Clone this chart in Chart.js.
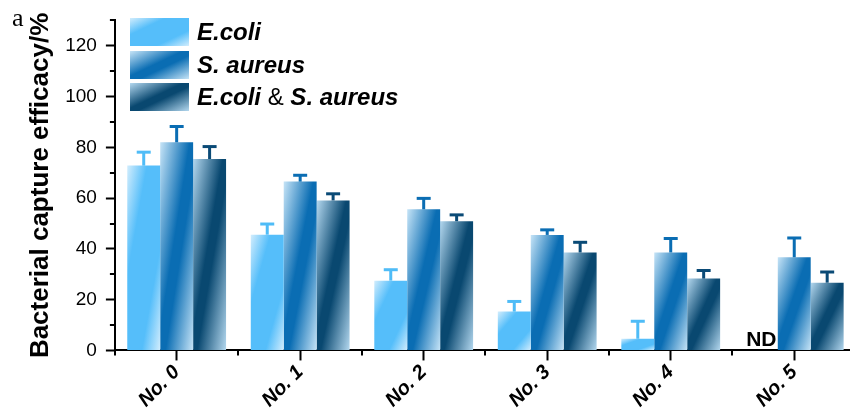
<!DOCTYPE html>
<html>
<head>
<meta charset="utf-8">
<script src="https://cdn.jsdelivr.net/npm/chart.js@4"></script>
<style>
  html, body { margin: 0; padding: 0; background: #fff; overflow: hidden; }
  #wrap { position: relative; width: 850px; height: 411px; overflow: hidden; }
  #box { position: absolute; left: 0; top: 0; width: 870px; height: 411px; }
  .panel { position: absolute; left: 12px; top: 3px; font: 26px "Liberation Serif", serif; color: #000; line-height: 30px; }
  .legend { position: absolute; left: 130px; top: 18px; font-family: "Liberation Sans", Arial, sans-serif; }
  .item { height: 28px; margin-bottom: 4.5px; display: flex; align-items: center; }
  .sw { width: 59px; height: 28px; margin-right: 8px; flex: none; }
  .lbl { font-size: 24px; font-weight: bold; font-style: italic; color: #000; white-space: nowrap; }
  .amp { font-style: normal; font-weight: normal; }
</style>
</head>
<body>
<div id="wrap">
  <div id="box"><canvas id="myChart" width="870" height="411"></canvas></div>
  <div class="panel">a</div>
  <div class="legend">
    <div class="item"><div class="sw" style="background:linear-gradient(to bottom right,#d2edfd 0%,#55befa 30%,#55befa 72%,#d2edfd 100%)"></div><span class="lbl">E.coli</span></div>
    <div class="item"><div class="sw" style="background:linear-gradient(to bottom right,#c6e4f7 0%,#0a6db3 45%,#0a6db3 58%,#c6e4f7 100%)"></div><span class="lbl">S. aureus</span></div>
    <div class="item"><div class="sw" style="background:linear-gradient(to bottom right,#b4d8ef 0%,#094870 45%,#094870 56%,#b4d8ef 100%)"></div><span class="lbl">E.coli <span class="amp">&amp;</span> S. aureus</span></div>
  </div>
</div>
<script>
var categories = ['No. 0', 'No. 1', 'No. 2', 'No. 3', 'No. 4', 'No. 5'];
var ecoli = [72.8, 45.6, 27.5, 15.3, 4.6, null];
var ecoliErr = [5.3, 4.2, 4.3, 4.0, 6.9, null];
var saureus = [82.0, 66.5, 55.6, 45.5, 38.6, 36.7];
var saureusErr = [6.2, 2.5, 4.3, 2.0, 5.5, 7.6];
var mixed = [75.4, 59.1, 50.9, 38.6, 28.3, 26.7];
var mixedErr = [4.9, 2.6, 2.5, 4.0, 3.2, 4.2];
var yTicks = [0, 20, 40, 60, 80, 100, 120];

// gradient stops per series: light corner, dark band
var fills = [
  { light: '#d2edfd', dark: '#55befa', a: 0.30, b: 0.72, err: '#4fbcf7' },
  { light: '#c6e4f7', dark: '#0a6db3', a: 0.45, b: 0.58, err: '#0a6db3' },
  { light: '#b4d8ef', dark: '#094870', a: 0.45, b: 0.56, err: '#0a4a76' }
];

function barFill(context) {
  var chart = context.chart;
  var f = fills[context.datasetIndex];
  if (!chart.chartArea || context.type !== 'data') return f.dark;
  var xs = chart.scales.x, ys = chart.scales.y;
  var v = context.raw;
  if (v === null || v === undefined) return f.dark;
  var cat = xs.getPixelForValue(1) - xs.getPixelForValue(0);
  var w = cat * 0.8 / 3;
  var left = xs.getPixelForValue(context.dataIndex) - cat * 0.4 + context.datasetIndex * w;
  var top = ys.getPixelForValue(v);
  var h = ys.getPixelForValue(0) - top;
  if (h < 1) return f.dark;
  // isolines parallel to the bottom-left -> top-right diagonal of the bar
  var k = 2 * w * h / (h * h + w * w);
  var g = chart.ctx.createLinearGradient(left, top, left + h * k, top + w * k);
  g.addColorStop(0, f.light);
  g.addColorStop(f.a, f.dark);
  g.addColorStop(f.b, f.dark);
  g.addColorStop(1, f.light);
  return g;
}

var errors = [ecoliErr, saureusErr, mixedErr];

var extras = {
  id: 'extras',
  afterDatasetsDraw: function (chart) {
    var ctx = chart.ctx, ys = chart.scales.y, xs = chart.scales.x;
    ctx.save();
    chart.data.datasets.forEach(function (ds, d) {
      var meta = chart.getDatasetMeta(d);
      meta.data.forEach(function (bar, i) {
        var v = ds.data[i];
        if (v === null) return;
        var x = bar.x;
        var y0 = ys.getPixelForValue(v);
        var y1 = ys.getPixelForValue(v + errors[d][i]);
        ctx.strokeStyle = fills[d].err;
        ctx.lineWidth = 3;
        ctx.beginPath();
        ctx.moveTo(x, y0);
        ctx.lineTo(x, y1);
        ctx.stroke();
        ctx.beginPath();
        ctx.moveTo(x - 7, y1);
        ctx.lineTo(x + 7, y1);
        ctx.stroke();
      });
    });
    // ND label for the missing E.coli bar
    var cat = xs.getPixelForValue(1) - xs.getPixelForValue(0);
    var ndX = xs.getPixelForValue(5) - cat * 0.8 / 3;
    ctx.fillStyle = '#000';
    ctx.font = 'bold 21px "Liberation Sans", Arial, sans-serif';
    ctx.textAlign = 'center';
    ctx.textBaseline = 'alphabetic';
    ctx.fillText('ND', ndX, ys.getPixelForValue(0) - 4);
    ctx.restore();
  },
  afterDraw: function (chart) {
    var ctx = chart.ctx, ys = chart.scales.y, xs = chart.scales.x;
    var left = chart.chartArea.left, bottom = chart.chartArea.bottom;
    ctx.save();
    ctx.strokeStyle = '#000';
    ctx.lineWidth = 2;
    ctx.beginPath();
    for (var v = 10; v <= 130; v += 20) {
      var y = Math.round(ys.getPixelForValue(v));
      ctx.moveTo(left, y);
      ctx.lineTo(left - 5, y);
    }
    for (var i = 0; i <= categories.length; i++) {
      var x = Math.round(xs.getPixelForValue(i - 0.5));
      ctx.moveTo(x, bottom);
      ctx.lineTo(x, bottom + 5);
    }
    ctx.stroke();
    ctx.restore();
  }
};

var data = {
  labels: categories,
  datasets: [{
    label: 'E.coli',
    data: ecoli,
    backgroundColor: barFill
  }, {
    label: 'S. aureus',
    data: saureus,
    backgroundColor: barFill
  }, {
    label: 'E.coli & S. aureus',
    data: mixed,
    backgroundColor: barFill
  }]
};

var config = {
  type: 'bar',
  data: data,
  plugins: [extras],
  options: {
    responsive: false,
    animation: false,
    layout: { padding: { left: 25, right: 14, top: 8.6, bottom: -1 } },
    datasets: { bar: { categoryPercentage: 0.8, barPercentage: 1.0 } },
    plugins: { legend: { display: false }, tooltip: { enabled: false } },
    scales: {
      x: {
        grid: { drawOnChartArea: false, offset: false, tickLength: 10, tickColor: '#000', tickWidth: 2 },
        border: { color: '#000', width: 2 },
        ticks: {
          color: '#000', maxRotation: 45, minRotation: 45, padding: 0,
          font: { family: '"Liberation Sans", Arial, sans-serif', size: 20, weight: 'bold', style: 'italic' }
        }
      },
      y: {
        min: 0,
        max: 130,
        afterBuildTicks: function (scale) {
          scale.ticks = yTicks.map(function (v) { return { value: v }; });
        },
        grid: { drawOnChartArea: false, tickLength: 9, tickColor: '#000', tickWidth: 2 },
        border: { color: '#000', width: 2 },
        ticks: {
          color: '#000', padding: 9,
          font: { family: '"Liberation Sans", Arial, sans-serif', size: 19 }
        },
        title: {
          display: true,
          text: 'Bacterial capture efficacy/%',
          color: '#000',
          padding: { top: 0, bottom: 0 },
          font: { family: '"Liberation Sans", Arial, sans-serif', size: 26, weight: 'bold' }
        }
      }
    }
  }
};

var myChart = new Chart(document.getElementById('myChart'), config);
</script>
</body>
</html>
